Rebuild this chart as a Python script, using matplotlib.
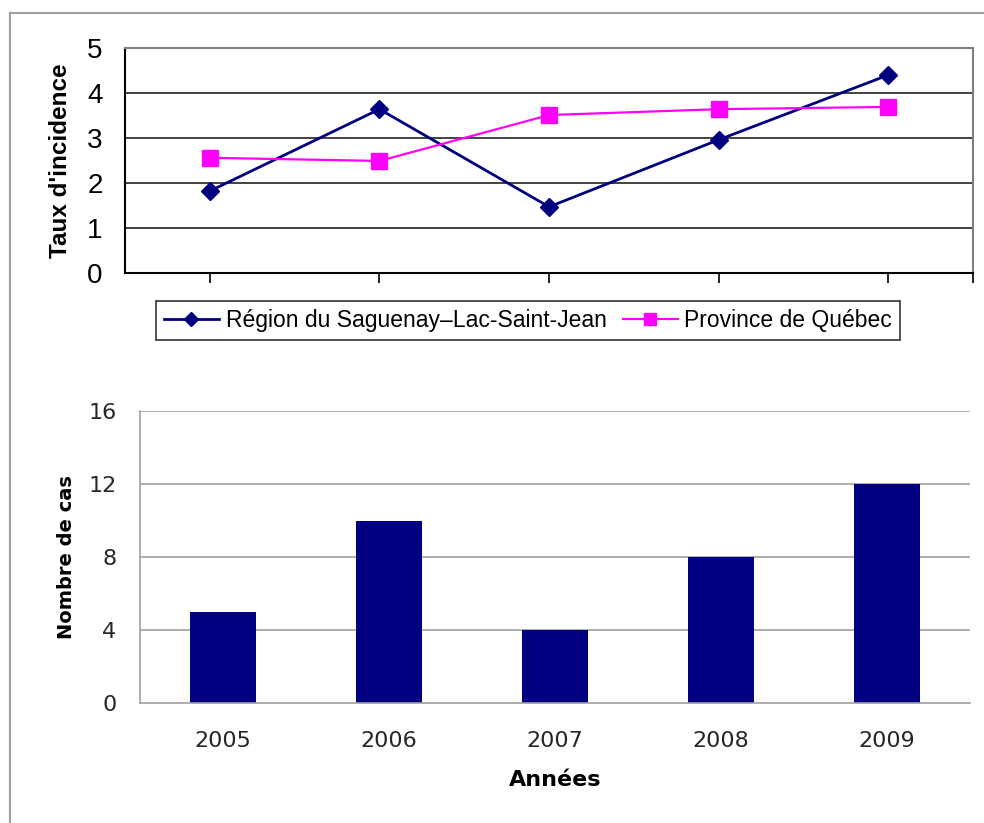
import matplotlib
matplotlib.use('Agg')
import matplotlib.pyplot as plt
from matplotlib.lines import Line2D

annees = ['2005', '2006', '2007', '2008', '2009']
taux_region = [1.82, 3.64, 1.47, 2.96, 4.40]
taux_quebec = [2.56, 2.49, 3.51, 3.64, 3.69]
nb_cas = [5, 10, 4, 8, 12]

navy = '#000080'
magenta = '#FF00FF'

fig = plt.figure(figsize=(9.84, 8.23), dpi=100)

# cadre gris autour de la figure (haut et gauche)
fig.add_artist(Line2D([10/984, 1], [1-13/823, 1-13/823], color='#a0a0a0', lw=1.5))
fig.add_artist(Line2D([10/984, 10/984], [0, 1-13/823], color='#a0a0a0', lw=1.5))

# graphique du haut : taux d'incidence
ax1 = fig.add_axes([0.127, 0.6683, 0.862, 0.2734])
x = range(len(annees))
ax1.plot(x, taux_region, color=navy, lw=2, marker='D', ms=9.5, label='Région du Saguenay–Lac-Saint-Jean')
ax1.plot(x, taux_quebec, color=magenta, lw=1.6, marker='s', ms=11, label='Province de Québec')
ax1.set_xlim(-0.5, 4.5)
ax1.set_ylim(0, 5)
ax1.set_yticks([0, 1, 2, 3, 4, 5])
ax1.set_xticks([0, 1, 2, 3, 4, 4.5])
ax1.set_xticklabels([])
ax1.tick_params(axis='x', length=7, width=1.2, direction='out')
ax1.tick_params(axis='y', length=0, labelsize=20, pad=16)
for lab in ax1.get_yticklabels():
    lab.set_family('Liberation Sans')
for yv in [1, 2, 3, 4]:
    ax1.axhline(yv, color='#222222', lw=1.2, zorder=0)
ax1.spines['left'].set_color('black')
ax1.spines['bottom'].set_color('black')
ax1.spines['left'].set_linewidth(1.5)
ax1.spines['bottom'].set_linewidth(1.5)
ax1.spines['top'].set_color('#808080')
ax1.spines['right'].set_color('#808080')
ax1.spines['top'].set_linewidth(1.5)
ax1.spines['right'].set_linewidth(1.5)
ax1.set_ylabel("Taux d'incidence", fontsize=17.5, fontweight='bold', family='Liberation Sans', labelpad=11)

leg = fig.legend(loc='center', bbox_to_anchor=(0.5366, 0.61), ncol=2, frameon=True,
                 fancybox=False, edgecolor='black', prop={'family': 'Liberation Sans', 'size': 16.5},
                 handlelength=2.4, columnspacing=0.7, handletextpad=0.3, borderpad=0.35,
                 markerscale=0.8)
leg.get_frame().set_linewidth(1.2)

# graphique du bas : nombre de cas
ax2 = fig.add_axes([0.1423, 0.1458, 0.8435, 0.3548])
ax2.bar(range(len(annees)), nb_cas, width=0.4, color=navy, zorder=2)
ax2.set_xlim(-0.5, 4.5)
ax2.set_ylim(0, 16)
ax2.set_yticks([0, 4, 8, 12, 16])
ax2.set_xticks(range(len(annees)))
ax2.set_xticklabels(annees)
for yv in [4, 8, 12, 16]:
    ax2.axhline(yv, color='#a0a0a0', lw=1.2, zorder=0)
ax2.tick_params(axis='both', length=0, labelsize=16, labelcolor='#262626')
ax2.tick_params(axis='x', pad=20)
ax2.tick_params(axis='y', pad=17)
for s in ['top', 'right']:
    ax2.spines[s].set_visible(False)
ax2.spines['left'].set_color('#a0a0a0')
ax2.spines['bottom'].set_color('#a0a0a0')
ax2.spines['left'].set_linewidth(1.2)
ax2.spines['bottom'].set_linewidth(1.2)
ax2.set_ylabel('Nombre de cas', fontsize=14, fontweight='bold', family='DejaVu Sans', labelpad=9)
ax2.set_xlabel('Années', fontsize=16, fontweight='bold', labelpad=14)

fig.savefig('out.png', dpi=100)
